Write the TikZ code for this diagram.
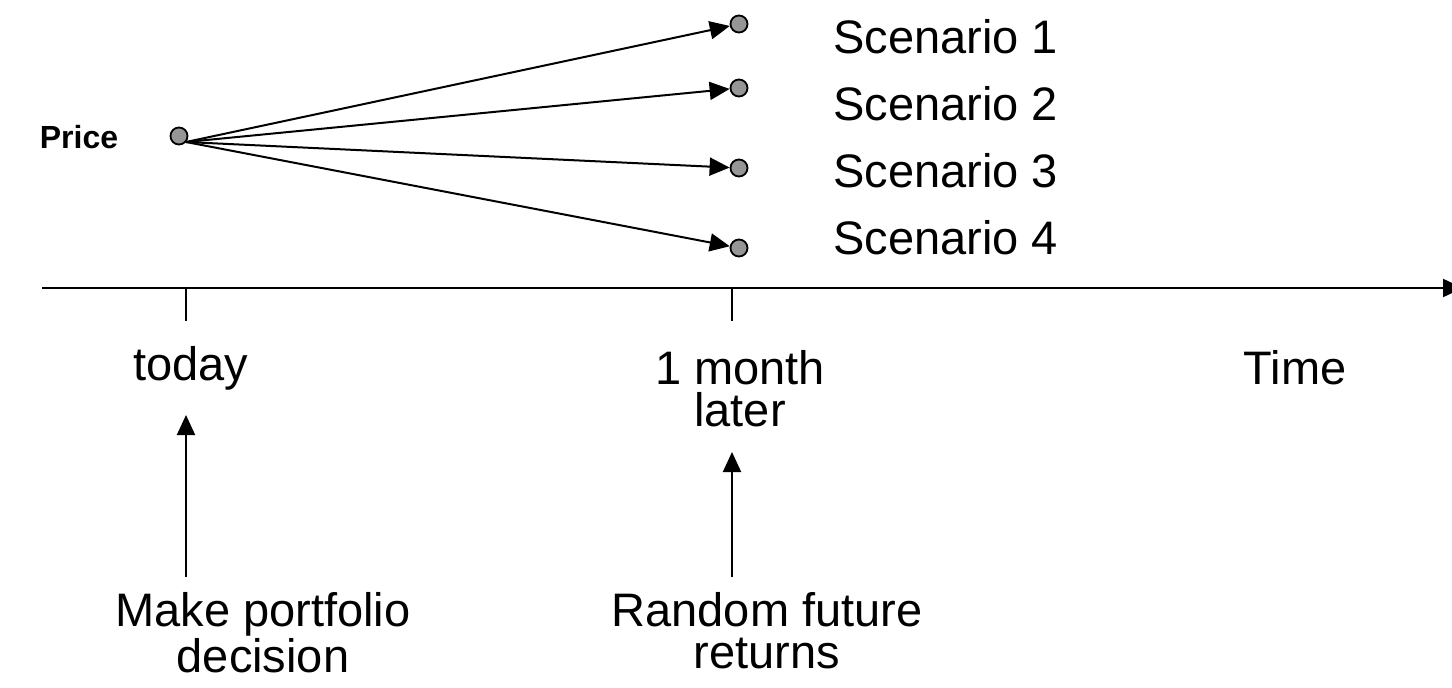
\documentclass[tikz,border=0pt]{standalone}
\usepackage{fontspec}
\setmainfont{Liberation Sans}
\usetikzlibrary{arrows.meta}
\begin{document}
\begin{tikzpicture}[x=0.5pt,y=-0.5pt,
  dot/.style={circle,draw=black,line width=0.9pt,fill={rgb,255:red,150;green,150;blue,150},minimum size=8.5pt,inner sep=0pt},
  lbl/.style={font=\fontsize{23.5}{21}\selectfont,inner sep=0pt,align=center},
  conn/.style={line width=1pt,-{Triangle[length=10pt,width=9pt]}},
  tick/.style={line width=1pt}]
\clip (0,0) rectangle (1452,687);
\useasboundingbox (0,0) rectangle (1452,687);

% price tree
\node[dot] (src) at (179,136) {};
\node[dot] (s1) at (739,24) {};
\node[dot] (s2) at (739,88) {};
\node[dot] (s3) at (739,168) {};
\node[dot] (s4) at (739,248) {};
\coordinate (fork) at (186,142);
\foreach \s in {s1,s2,s3,s4} \draw[conn] (fork) -- (\s);

\node[font=\fontsize{16}{18}\bfseries\selectfont,inner sep=0pt] (price) at (79,137) {Price};
\node[lbl,anchor=west] (l1) at (833,37) {Scenario 1};
\node[lbl,anchor=west] (l2) at (833,104) {Scenario 2};
\node[lbl,anchor=west] (l3) at (833,171) {Scenario 3};
\node[lbl,anchor=west] (l4) at (833,238) {Scenario 4};

% time axis
\coordinate (ax0) at (42,288);
\coordinate (ax1) at (1463,288);
\draw[conn] (ax0) -- (ax1);
\coordinate (t0) at (186,288);
\coordinate (t0b) at (186,321);
\coordinate (t1) at (732,288);
\coordinate (t1b) at (732,321);
\draw[tick] (t0) -- (t0b);
\draw[tick] (t1) -- (t1b);

\node[lbl] (today) at (191,368) {today};
\node[lbl,anchor=north] (month) at (740,350) {1 month\\later};
\node[lbl] (time) at (1295,368) {Time};

% decisions and returns
\node[lbl,anchor=north] (make) at (263,592) {Make portfolio\\decision};
\node[lbl,anchor=north] (rand) at (767,592) {Random future\\returns};
\coordinate (a0) at (186,577);
\coordinate (a1) at (732,577);
\coordinate (a0t) at (186,415);
\coordinate (a1t) at (732,452);
\draw[conn] (a0) -- (a0t);
\draw[conn] (a1) -- (a1t);
\end{tikzpicture}
\end{document}
